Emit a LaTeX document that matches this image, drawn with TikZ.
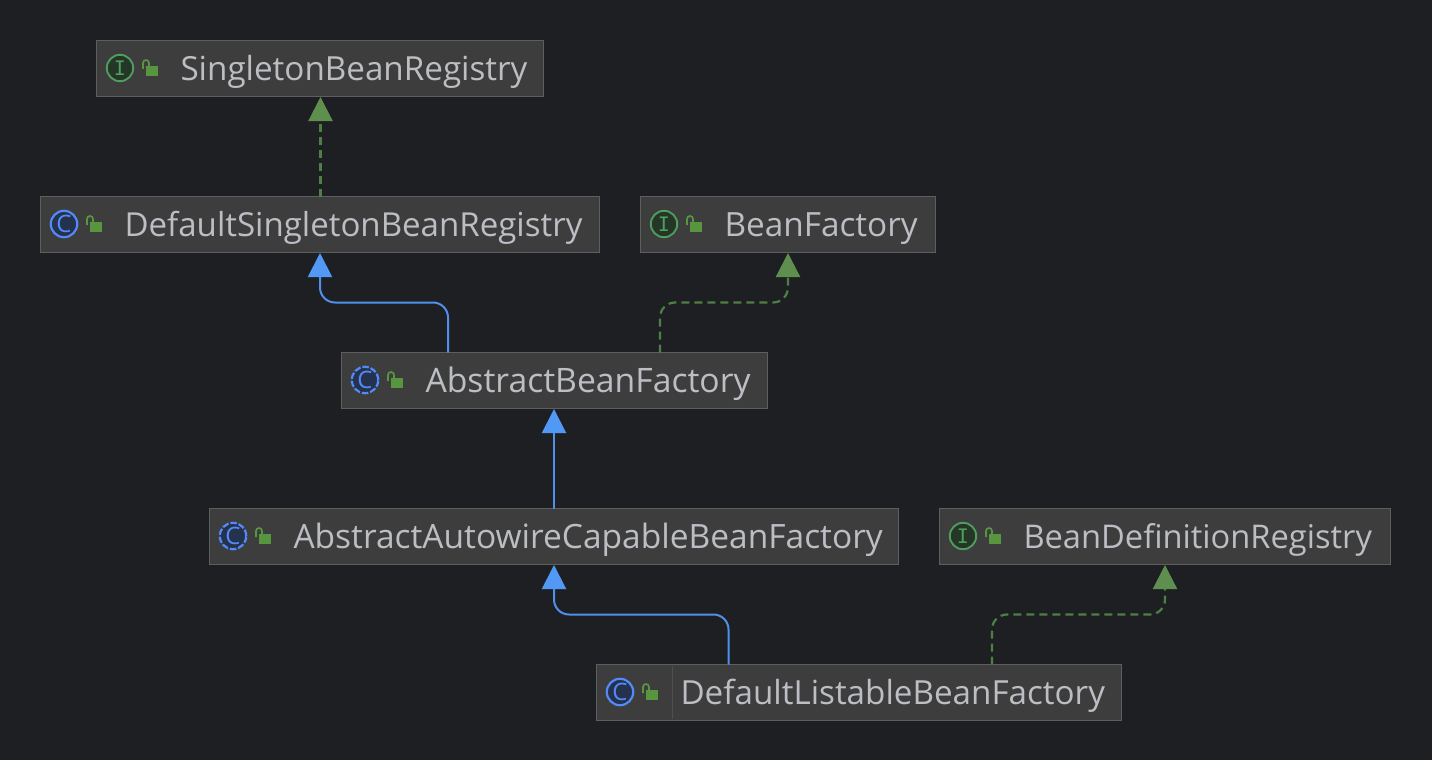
\documentclass[tikz,border=0pt]{standalone}
\usepackage{fontspec}
\setmainfont{Open Sans}
\newfontfamily\ifont{DejaVu Sans Mono}
\usetikzlibrary{arrows.meta,calc}
\definecolor{bgc}{HTML}{1E1F22}
\definecolor{boxf}{HTML}{3D3D3D}
\definecolor{boxd}{HTML}{5C5E5F}
\definecolor{txt}{HTML}{BCBEC4}
\definecolor{blu}{HTML}{4F90EC}
\definecolor{blutip}{HTML}{5299F5}
\definecolor{grn}{HTML}{4E7F45}
\definecolor{grntip}{HTML}{5F8F4E}
\definecolor{lockc}{HTML}{57953F}
\definecolor{igrn}{HTML}{4F9D5F}
\definecolor{igrnf}{HTML}{253627}
\definecolor{iblu}{HTML}{548AF7}
\definecolor{ibluf}{HTML}{25324D}
\tikzset{
  x=1pt,y=-1pt,
  umlbox/.style={draw=boxd,fill=boxf,line width=1pt,anchor=north west,inner xsep=0pt,inner ysep=0pt,outer sep=0pt,
    minimum height=55.5pt,text=txt,align=left,text height=28pt,text depth=4pt,
    font=\fontsize{33.2}{36}\selectfont},
  implarrow/.style={draw=grn,line width=2.2pt,dash pattern=on 8pt off 5pt,rounded corners=15pt,
    -{Triangle[length=24pt,width=24pt,color=grntip]}},
  extarrow/.style={draw=blu,line width=2pt,rounded corners=15pt,
    -{Triangle[length=24pt,width=24pt,color=blutip]}},
  kindI/.style={draw=igrn,fill=igrnf,line width=1.9pt},
  kindC/.style={draw=iblu,fill=ibluf,line width=2.2pt},
  kindA/.style={draw=iblu,fill=ibluf,line width=2.2pt,dash pattern=on 6.5pt off 1.9pt},
  letterI/.style={text=igrn,font=\ifont\fontsize{20}{20}\selectfont,inner sep=0pt},
  letterC/.style={text=iblu,font=\fontsize{24}{24}\selectfont,inner sep=0pt},
  pics/kindicon/.style n args={3}{code={
    \draw[#1] (0,0) circle[radius=13.2pt];
    \node[#2] (-letter) at (0,0) {#3};
    \fill[lockc] (26,-2) rectangle (38,8);
    \draw[lockc,line width=1.7pt] (23,1) -- (23,-5) arc[start angle=180,end angle=0,radius=3pt] -- (29,-2);
  }}
}
\newcommand{\umlnode}[7]{% name, x, y, width, kind style, font size, text
  \node[umlbox,minimum width=#4pt,text width=#4pt] (#1) at (#2+0.5,#3+0.5) {\fontsize{#6}{36}\selectfont\hspace*{84pt}#7};
  \ifx#5I
    \pic (#1icon) at (#2+24,#3+28) {kindicon={kindI}{letterI}{I}};
  \else\ifx#5C
    \pic (#1icon) at (#2+24,#3+28) {kindicon={kindC}{letterC}{C}};
  \else
    \pic (#1icon) at (#2+24,#3+28) {kindicon={kindA}{letterC}{C}};
  \fi\fi
}
\begin{document}
\begin{tikzpicture}
\useasboundingbox[fill=bgc] (0,0) rectangle (1432,760);
\umlnode{sbr}{96}{40}{447}{I}{33.2}{SingletonBeanRegistry}
\umlnode{dsbr}{40}{196}{559}{C}{33.05}{DefaultSingletonBeanRegistry}
\umlnode{bf}{640}{196}{295}{I}{33.35}{BeanFactory}
\umlnode{abf}{341}{352}{426}{A}{33.7}{AbstractBeanFactory}
\umlnode{aacbf}{209}{508}{689}{A}{33.5}{AbstractAutowireCapableBeanFactory}
\umlnode{bdr}{939}{508}{451}{I}{32.65}{BeanDefinitionRegistry}
\umlnode{dlbf}{596}{664}{525}{C}{33.2}{DefaultListableBeanFactory}
\draw[boxd!55!boxf,line width=1pt] ($(dlbf.north west)+(76,1)$) -- ($(dlbf.south west)+(76,-1)$);
% connectors
\draw[implarrow] ($(dsbr.north west)+(280,0)$) -- ($(sbr.south west)+(224,1)$);
\draw[extarrow] ($(abf.north west)+(106.5,0)$) -- ++(0,-50) -| ($(dsbr.south west)+(279.5,1)$);
\draw[implarrow] ($(abf.north west)+(318.5,0)$) -- ++(0,-50) -| ($(bf.south west)+(147.5,1)$);
\draw[extarrow] ($(aacbf.north west)+(344.5,0)$) -- ($(abf.south west)+(212.5,1)$);
\draw[extarrow] ($(dlbf.north west)+(132,0)$) -- ++(0,-50) -| ($(aacbf.south west)+(344.5,1)$);
\draw[implarrow] ($(dlbf.north west)+(395.5,0)$) -- ++(0,-50) -| ($(bdr.south west)+(225.5,1)$);
\end{tikzpicture}
\end{document}
